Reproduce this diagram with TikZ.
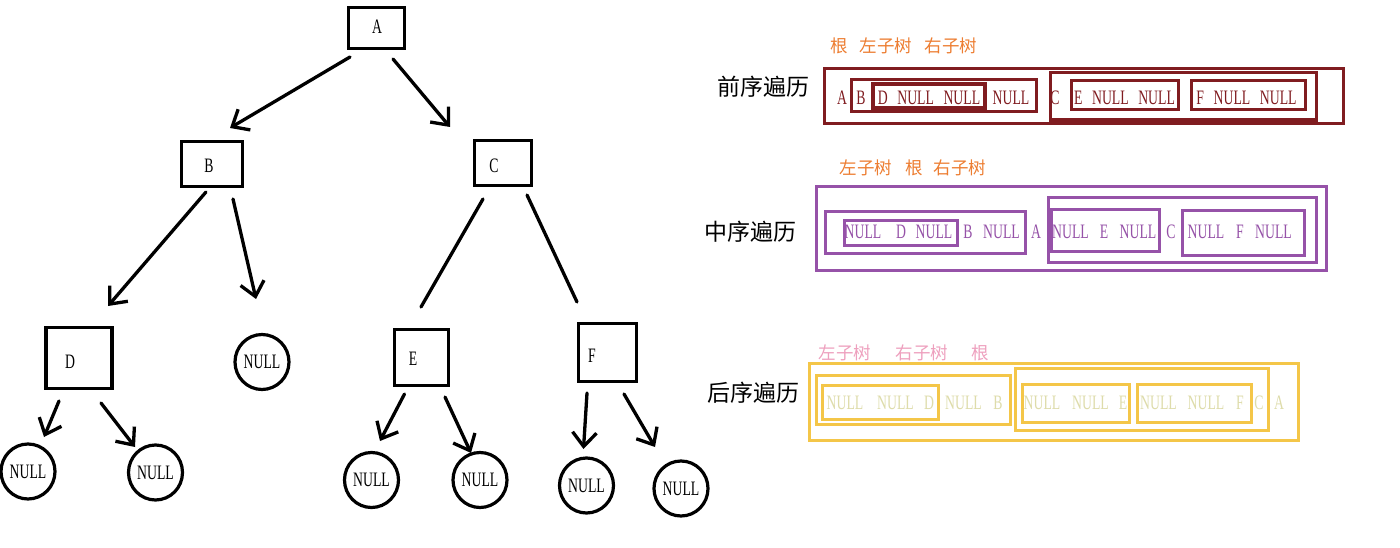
\documentclass[tikz,border=0pt]{standalone}
\usepackage{fontspec}
\setmainfont{Liberation Serif}
\newfontfamily\lat[FakeStretch=0.67,WordSpace=2.8]{Liberation Serif}
\newfontfamily\cjk{Noto Sans CJK SC}
\usetikzlibrary{arrows.meta,shapes.geometric}
\definecolor{dred}{RGB}{128,28,32}
\definecolor{orng}{RGB}{237,125,49}
\definecolor{purp}{RGB}{150,82,168}
\definecolor{ylw}{RGB}{244,198,72}
\definecolor{ytxt}{RGB}{222,220,170}
\definecolor{pnk}{RGB}{238,160,190}
\begin{document}
\begin{tikzpicture}[x=1pt,y=-1pt,
  treebox/.style={draw, line width=3.5pt, inner sep=0pt},
  nullnode/.style={draw, ellipse, line width=3.2pt, inner sep=0pt, minimum width=54pt, minimum height=55pt, font=\lat\fontsize{20.5}{21}\selectfont},
  lbl/.style={inner sep=0pt, font=\lat\fontsize{20.5}{21}\selectfont},
  edge/.style={line width=3.3pt, line cap=round},
  arr/.style={edge, -{Straight Barb[length=14pt,width=24pt,line width=3.3pt]}},
  rowtxt/.style={inner sep=0pt, font=\lat\fontsize{20.5}{21}\selectfont},
  title/.style={inner sep=0pt, font=\cjk\fontsize{23}{24}\selectfont},
  head/.style={inner sep=0pt, font=\cjk\fontsize{17.5}{18}\selectfont},
]
\useasboundingbox[fill=white] (0,0) rectangle (1400,548);

% ---------------- tree ----------------
\node[treebox, minimum width=56pt, minimum height=41pt] (A) at (376.5,28) {};
\node[lbl] (At) at (377,27) {A};
\node[treebox, minimum width=61pt, minimum height=45pt] (B) at (212,164) {};
\node[lbl] (Bt) at (209,166) {B};
\node[treebox, minimum width=57pt, minimum height=45pt] (C) at (503,163) {};
\node[lbl] (Ct) at (494,166) {C};
\node[treebox, minimum width=66pt, minimum height=61pt] (D) at (79,358) {};
\node[lbl] (Dt) at (70,362) {D};
\node[treebox, minimum width=54pt, minimum height=56pt] (E) at (421.5,357.5) {};
\node[lbl] (Et) at (413,359) {E};
\node[treebox, minimum width=58pt, minimum height=58pt] (F) at (607.5,352.5) {};
\node[lbl] (Ft) at (592,356) {F};

\node[nullnode] (NB) at (262,362) {NULL};
\node[nullnode] (NDL) at (28,471.5) {NULL};
\node[nullnode] (NDR) at (155.5,472.5) {NULL};
\node[nullnode] (NEL) at (371.5,480) {NULL};
\node[nullnode] (NER) at (480,480) {NULL};
\node[nullnode] (NFL) at (586.5,485.5) {NULL};
\node[nullnode] (NFR) at (681,488.5) {NULL};

\coordinate (ab1) at (350,57);  \coordinate (ab2) at (230,128);
\coordinate (ac1) at (393,59);  \coordinate (ac2) at (450,127);
\coordinate (bd1) at (206,192); \coordinate (bd2) at (108,306);
\coordinate (bn1) at (233,199); \coordinate (bn2) at (256,299);
\coordinate (ce1) at (483,199); \coordinate (ce2) at (421,307);
\coordinate (cf1) at (527,195); \coordinate (cf2) at (577,302);
\coordinate (dl1) at (59,401);  \coordinate (dl2) at (44,437);
\coordinate (dr1) at (101,403); \coordinate (dr2) at (135,447);
\coordinate (el1) at (404.5,394); \coordinate (el2) at (380,441);
\coordinate (er1) at (445,397); \coordinate (er2) at (471,453);
\coordinate (fl1) at (587,393); \coordinate (fl2) at (583.5,449);
\coordinate (fr1) at (624,394); \coordinate (fr2) at (655,447);

\draw[arr] (ab1) -- (ab2);
\draw[arr] (ac1) -- (ac2);
\draw[arr] (bd1) -- (bd2);
\draw[arr] (bn1) -- (bn2);
\draw[edge] (ce1) -- (ce2);
\draw[edge] (cf1) -- (cf2);
\draw[arr] (dl1) -- (dl2);
\draw[arr] (dr1) -- (dr2);
\draw[arr] (el1) -- (el2);
\draw[arr] (er1) -- (er2);
\draw[arr] (fl1) -- (fl2);
\draw[arr] (fr1) -- (fr2);

% ---------------- preorder ----------------
\node[title] (t1) at (763,87) {前序遍历};
\node[head, text=orng] (h1a) at (839,46) {根};
\node[head, text=orng] (h1b) at (886,46) {左子树};
\node[head, text=orng] (h1c) at (951,46) {右子树};
\begin{scope}[dred]
\draw[line width=3pt] (824.5,68.5) rectangle (1343,124);
\draw[line width=3pt] (851.5,79.5) rectangle (1036.5,111.5);
\draw[line width=4pt] (873,84) rectangle (985,108);
\draw[line width=3.5pt] (1050.5,72.5) rectangle (1316.5,120);
\draw[line width=3.5pt] (1071.5,80.5) rectangle (1178.5,109.5);
\draw[line width=3.5pt] (1191.5,80.5) rectangle (1305.5,109.5);
\end{scope}
\foreach \x/\t [count=\i] in {842/A, 861/B, 929/D NULL NULL, 1011/NULL, 1055/C, 1124.5/E NULL NULL, 1246.5/F NULL NULL}
  \node[rowtxt, text=dred] (p\i) at (\x,98) {\t};

% ---------------- inorder ----------------
\node[title] (t2) at (750.5,232) {中序遍历};
\node[head, text=orng] (h2a) at (866,168) {左子树};
\node[head, text=orng] (h2b) at (914,168) {根};
\node[head, text=orng] (h2c) at (960,168) {右子树};
\begin{scope}[purp]
\draw[line width=3pt] (816.5,186.5) rectangle (1326.5,270.5);
\draw[line width=3.5pt] (825.5,211.5) rectangle (1025.5,253.5);
\draw[line width=3.5pt] (844.5,220.5) rectangle (957.5,245.5);
\draw[line width=3.5pt] (1048.5,197.5) rectangle (1316.5,262.5);
\draw[line width=3.5pt] (1051.5,209.5) rectangle (1159.5,251.5);
\draw[line width=3.5pt] (1182.5,210.5) rectangle (1304.5,255.5);
\end{scope}
\foreach \x/\t [count=\i] in {863/NULL, 901/D, 934/NULL, 968/B, 1001.5/NULL, 1036/A, 1070.5/NULL, 1104/E, 1138/NULL, 1171/C, 1206/NULL, 1240/F, 1273.5/NULL}
  \node[rowtxt, text=purp] (m\i) at (\x,232) {\t};

% ---------------- postorder ----------------
\node[title] (t3) at (753.5,393) {后序遍历};
\node[head, text=pnk] (h3a) at (845,353) {左子树};
\node[head, text=pnk] (h3b) at (922,353) {右子树};
\node[head, text=pnk] (h3c) at (980,353) {根};
\begin{scope}[ylw]
\draw[line width=3.5pt] (809.5,363.5) rectangle (1298.5,440.5);
\draw[line width=3.5pt] (816.5,375.5) rectangle (1010.5,424.5);
\draw[line width=3.5pt] (822.5,385.5) rectangle (938.5,419.5);
\draw[line width=3.5pt] (1015.5,368.5) rectangle (1268.5,430.5);
\draw[line width=3.5pt] (1022.5,384.5) rectangle (1129.5,422.5);
\draw[line width=3.5pt] (1137.5,384.5) rectangle (1251.5,422.5);
\end{scope}
\foreach \x/\t [count=\i] in {845/NULL, 895.5/NULL, 929/D, 963.5/NULL, 998/B, 1042/NULL, 1090.5/NULL, 1123/E, 1158.5/NULL, 1206/NULL, 1240/F, 1259/C, 1279/A}
  \node[rowtxt, text=ytxt] (q\i) at (\x,403) {\t};
\end{tikzpicture}
\end{document}
